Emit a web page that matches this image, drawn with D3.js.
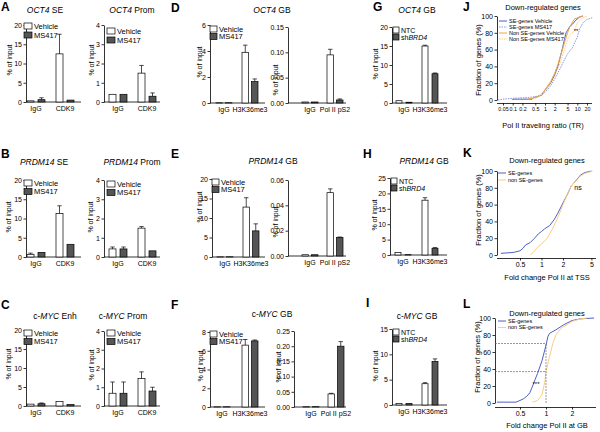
<!DOCTYPE html>
<html><head><meta charset="utf-8">
<script src="https://cdn.jsdelivr.net/npm/d3@7"></script>
<style>
body{margin:0;background:#fff}
svg{display:block;font-family:"Liberation Sans",Arial,Helvetica,sans-serif}
</style></head><body>
<svg id="fig" width="600" height="432"></svg>
<script>
// ---------------- categories / series ----------------
const catsCDK9 = ["IgG", "CDK9"];
const catsH3 = ["IgG", "H3K36me3"];
const catsPol = ["IgG", "Pol II pS2"];
const seriesMS = ["Vehicle", "MS417"];
const seriesSh = ["NTC", "shBRD4"];

// ---------------- tick values ----------------
const ticks20 = [0, 5, 10, 15, 20];
const ticks4 = [0, 1, 2, 3, 4];
const ticks6 = [0, 2, 4, 6];
const ticks8 = [0, 2, 4, 6, 8];
const ticks015 = [0, 0.05, 0.10, 0.15];
const ticks006 = [0, 0.02, 0.04, 0.06];
const ticks025 = [0, 0.05, 0.10, 0.15, 0.20, 0.25];
const ticks25 = [0, 5, 10, 15, 20, 25];
const ticks15 = [0, 5, 10, 15];
const ticksPct = [0, 20, 40, 60, 80, 100];
const jTickVals = [0.05, 0.1, 0.2, 0.5, 1, 2, 5, 10, 20];
const jTickLabels = ["0.05", "0.1", "0.2", "0.5", "1", "2", "5", "10", "20"];
const kTickVals = [0.5, 1, 2, 5];
const kTickLabels = ["0.5", "1", "2", "5"];
const lTickVals = [0.5, 1, 2];
const lTickLabels = ["0.5", "1", "2"];

// ---------------- bar values [category][series] and SD ----------------
const oct4SE = [[0.3, 0.6], [12.5, 0.5]];
const oct4SEerr = [[0.1, 0.5], [5.1, 0.1]];
const oct4Prom = [[0.4, 0.4], [1.5, 0.3]];
const oct4PromErr = [[0.03, 0.02], [0.4, 0.17]];
const prdmSE = [[0.7, 1.2], [11.3, 3.3]];
const prdmSEerr = [[0.3, 0.1], [2.0, 0.15]];
const prdmProm = [[0.42, 0.42], [1.5, 0.32]];
const prdmPromErr = [[0.1, 0.1], [0.08, 0.03]];
const mycEnh = [[0.5, 0.6], [1.2, 0.4]];
const mycEnhErr = [[0.05, 0.2], [0.1, 0.05]];
const mycProm = [[0.68, 0.68], [1.47, 0.8]];
const mycPromErr = [[0.6, 0.6], [0.35, 0.2]];
const oct4GBh3 = [[0.02, 0.02], [3.9, 1.65]];
const oct4GBh3Err = [[0.01, 0.01], [0.55, 0.2]];
const oct4GBpol = [[0.002, 0.002], [0.095, 0.006]];
const oct4GBpolErr = [[0.0005, 0.0005], [0.011, 0.002]];
const prdmGBh3 = [[0.05, 0.05], [12.8, 6.7]];
const prdmGBh3Err = [[0.02, 0.02], [2.4, 1.8]];
const prdmGBpol = [[0.001, 0.001], [0.050, 0.0145]];
const prdmGBpolErr = [[0.0003, 0.0003], [0.003, 0.0005]];
const mycGBh3 = [[0.02, 0.02], [6.6, 7.05]];
const mycGBh3Err = [[0.01, 0.01], [0.6, 0.1]];
const mycGBpol = [[0.001, 0.001], [0.043, 0.2]];
const mycGBpolErr = [[0.0003, 0.0003], [0.002, 0.015]];
const shOct4 = [[0.6, 0.2], [15.0, 7.7]];
const shOct4Err = [[0.1, 0.05], [0.2, 0.2]];
const shPrdm = [[0.8, 0.1], [17.8, 2.2]];
const shPrdmErr = [[0.1, 0.05], [0.8, 0.2]];
const shMyc = [[0.3, 0.3], [4.2, 8.6]];
const shMycErr = [[0.05, 0.05], [0.2, 0.5]];

// ---------------- cumulative curves [x, % of genes] ----------------
const jSEVeh = [[0.1,0],[0.1,1],[0.4,1],[0.45,3],[0.6,4],[0.8,6],[1,12],[1.5,20],[2,30],[2.5,40],[3,52],[3.5,62],[4,72],[4.5,80],[5,83],[6,88],[7,90],[9,95],[12,99],[15,100]];
const jSEMS = [[0.035,0],[0.05,1],[0.1,2],[0.3,3],[0.5,4],[0.8,6],[1,9],[1.5,17],[2,25],[3,38],[4,48],[5,55],[7,62],[10,75],[12,85],[15,92],[20,96],[30,98]];
const jNonVeh = [[0.3,1],[0.5,3],[0.7,5],[1,12],[1.5,22],[2,32],[2.5,42],[3,52],[4,68],[5,80],[6,88],[8,96],[10,98],[15,100]];
const jNonMS = [[0.4,1],[0.6,3],[1,10],[1.5,20],[2,28],[3,45],[4,60],[5,72],[6,78],[8,82],[10,92],[15,98],[20,100]];
const kSE = [[0.27,2],[0.4,3],[0.5,5],[0.55,8],[0.6,12],[0.7,15],[0.8,20],[0.9,25],[1,28],[1.1,31],[1.3,35],[1.5,42],[1.7,50],[2,62],[2.3,72],[2.6,82],[3,88],[3.5,95],[4,98],[5,100]];
const kNon = [[0.7,0],[0.8,5],[0.9,10],[1,13],[1.2,20],[1.4,30],[1.6,40],[1.8,50],[2,60],[2.3,72],[2.6,82],[3,88],[3.5,94],[4,97],[5.2,100]];
const lSE = [[0.27,1],[0.45,1],[0.5,3],[0.55,5],[0.6,8],[0.65,12],[0.7,20],[0.75,28],[0.8,35],[0.9,50],[1.0,68],[1.05,78],[1.1,82],[1.3,86],[1.6,92],[2,97],[2.5,99],[3.6,100]];
const lNon = [[0.7,1],[0.8,3],[0.9,10],[0.97,25],[1.0,37],[1.1,55],[1.2,70],[1.3,80],[1.5,88],[1.8,93],[2,96],[2.5,99],[3,100]];

// ---------------- drawing ----------------
const svg = d3.select("#fig");
const DARK = "#555555";
const fmt0 = d3.format("d"), fmt2 = d3.format(".2f");

function richText(sel, parts) {
  parts.forEach(p => sel.append("tspan").attr("font-style", p[1] ? "italic" : "normal").text(p[0]));
}
function letter(t, x, y) {
  svg.append("text").attr("x", x).attr("y", y).attr("font-size", 12).attr("font-weight", "bold").text(t);
}
function title(parts, x, y, size) {
  const t = svg.append("text").attr("x", x).attr("y", y).attr("text-anchor", "middle").attr("font-size", size || 8.5);
  richText(t, parts);
}
function ylab(t, x, y, size, fam) {
  svg.append("text").attr("transform", `translate(${x},${y}) rotate(-90)`).attr("text-anchor", "middle")
    .attr("dominant-baseline", "central").attr("font-size", size || 7).attr("font-family", fam || null).text(t);
}

function drawBars(c) {
  const g = svg.append("g");
  const y = d3.scaleLinear().domain([0, d3.max(c.ticks)]).range([c.bot, c.top]);
  const x = d3.scalePoint().domain(c.cats).range(c.centers);
  const bw = c.bw || 7, gap = c.gap || 4;
  const xs = d3.scaleBand().domain(c.series).range([-(bw + gap / 2), bw + gap / 2]).paddingInner(gap / (bw + gap));
  const ax = d3.axisLeft(y).tickValues(c.ticks).tickSize(2.5).tickSizeOuter(0).tickPadding(1.5).tickFormat(c.fmt || fmt0);
  const ga = g.append("g").attr("transform", `translate(${c.x0},0)`).call(ax);
  ga.attr("font-size", 7).attr("font-family", null);
  ga.selectAll("path,line").attr("stroke", "#000").attr("stroke-width", 0.8);
  g.append("line").attr("x1", c.x0).attr("x2", c.x1).attr("y1", c.bot).attr("y2", c.bot).attr("stroke", "#000").attr("stroke-width", 0.8);
  g.selectAll("text.cat").data(c.cats).join("text").attr("class", "cat")
    .attr("x", d => x(d)).attr("y", c.bot + 8.5).attr("text-anchor", "middle").attr("font-size", 7).text(d => d);
  const recs = [];
  c.cats.forEach((cat, i) => c.series.forEach((s, j) => recs.push({cat, s, j, v: c.vals[i][j], e: c.errs[i][j]})));
  g.selectAll("rect.bar").data(recs).join("rect").attr("class", "bar")
    .attr("x", d => x(d.cat) + xs(d.s)).attr("width", xs.bandwidth())
    .attr("y", d => y(d.v)).attr("height", d => Math.max(0, y(0) - y(d.v)))
    .attr("fill", d => d.j === 0 ? "#fff" : DARK).attr("stroke", "#000").attr("stroke-width", 0.7);
  const eb = recs.filter(d => y(d.v) - y(d.v + d.e) > 0.6);
  const cx = d => x(d.cat) + xs(d.s) + xs.bandwidth() / 2;
  g.selectAll("line.err").data(eb).join("line").attr("class", "err")
    .attr("x1", cx).attr("x2", cx)
    .attr("y1", d => y(d.v)).attr("y2", d => y(d.v + d.e)).attr("stroke", "#000").attr("stroke-width", 0.7);
  g.selectAll("line.cap").data(eb).join("line").attr("class", "cap")
    .attr("x1", d => cx(d) - 2.2).attr("x2", d => cx(d) + 2.2)
    .attr("y1", d => y(d.v + d.e)).attr("y2", d => y(d.v + d.e)).attr("stroke", "#000").attr("stroke-width", 0.7);
  if (c.leg) {
    const [lx, ly, ls, lw, lh] = c.leg;
    c.series.forEach((s, j) => {
      g.append("rect").attr("x", lx).attr("y", ly + j * ls).attr("width", lw).attr("height", lh)
        .attr("fill", j === 0 ? "#fff" : DARK).attr("stroke", "#000").attr("stroke-width", 0.7);
      const t = g.append("text").attr("x", lx + lw + 2).attr("y", ly + j * ls + lh - 0.3).attr("font-size", c.lfs || 7.5);
      if (s === "shBRD4") richText(t, [["sh", 0], ["BRD4", 1]]); else t.text(s);
    });
  }
  if (c.ylab) ylab("% of input", c.ylab[0], c.ylab[1]);
}

const barCfgs = [
  {cats: catsCDK9, series: seriesMS, vals: oct4SE, errs: oct4SEerr, ticks: ticks20, x0: 26, x1: 81, top: 25, bot: 102, centers: [36, 65], leg: [24, 23, 9, 8, 6], ylab: [9, 60]},
  {cats: catsCDK9, series: seriesMS, vals: oct4Prom, errs: oct4PromErr, ticks: ticks4, x0: 104, x1: 160, top: 25, bot: 102, centers: [118, 147], leg: [107, 28, 9, 8, 6], ylab: [91, 60]},
  {cats: catsCDK9, series: seriesMS, vals: prdmSE, errs: prdmSEerr, ticks: ticks20, x0: 26, x1: 81, top: 180, bot: 257, centers: [36, 65], leg: [24, 180, 8.5, 8, 6], ylab: [8, 217]},
  {cats: catsCDK9, series: seriesMS, vals: prdmProm, errs: prdmPromErr, ticks: ticks4, x0: 104, x1: 160, top: 180, bot: 257, centers: [118, 147], leg: [107, 181, 8.5, 8, 6], ylab: [90, 217]},
  {cats: catsCDK9, series: seriesMS, vals: mycEnh, errs: mycEnhErr, ticks: ticks20, x0: 26, x1: 81, top: 330, bot: 406, centers: [36, 65], leg: [24, 330, 8.5, 8, 6], ylab: [8, 364]},
  {cats: catsCDK9, series: seriesMS, vals: mycProm, errs: mycPromErr, ticks: ticks4, x0: 104, x1: 160, top: 331, bot: 406, centers: [118, 147], leg: [107, 330, 8.5, 8, 6], ylab: [91, 365]},
  {cats: catsH3, series: seriesMS, vals: oct4GBh3, errs: oct4GBh3Err, ticks: ticks6, x0: 210, x1: 265, top: 25, bot: 103, centers: [224, 250], bw: 6.5, gap: 3, leg: [210, 26, 7.5, 7, 6], ylab: [199, 62]},
  {cats: catsPol, series: seriesMS, vals: oct4GBpol, errs: oct4GBpolErr, ticks: ticks015, fmt: fmt2, x0: 288, x1: 346, top: 27, bot: 103, centers: [310, 335], bw: 6.5, gap: 3, ylab: [275, 80]},
  {cats: catsH3, series: seriesMS, vals: prdmGBh3, errs: prdmGBh3Err, ticks: ticks20, x0: 212, x1: 265, top: 179, bot: 257, centers: [225, 251], bw: 6.5, gap: 3, leg: [212, 179, 7.5, 7, 6], ylab: [199, 207]},
  {cats: catsPol, series: seriesMS, vals: prdmGBpol, errs: prdmGBpolErr, ticks: ticks006, fmt: fmt2, x0: 288, x1: 346, top: 180, bot: 256, centers: [310, 335], bw: 6.5, gap: 3, ylab: [275, 222]},
  {cats: catsH3, series: seriesMS, vals: mycGBh3, errs: mycGBh3Err, ticks: ticks8, x0: 210, x1: 265, top: 332, bot: 407, centers: [222, 250], bw: 6.5, gap: 3, leg: [210, 331, 7.5, 7, 6], ylab: [200, 366]},
  {cats: catsPol, series: seriesMS, vals: mycGBpol, errs: mycGBpolErr, ticks: ticks025, fmt: fmt2, x0: 294, x1: 346, top: 331, bot: 407, centers: [311, 336], bw: 6.5, gap: 3, ylab: [278, 367]},
  {cats: catsH3, series: seriesSh, vals: shOct4, errs: shOct4Err, ticks: ticks20, x0: 392, x1: 447, top: 27, bot: 103, centers: [404, 430], bw: 6, gap: 4, leg: [393, 27, 7, 6, 6], lfs: 7, ylab: [375, 64]},
  {cats: catsH3, series: seriesSh, vals: shPrdm, errs: shPrdmErr, ticks: ticks25, x0: 390, x1: 447, top: 178, bot: 255, centers: [403, 430], bw: 6, gap: 4, leg: [391, 178, 7, 6, 6], lfs: 7, ylab: [374, 215]},
  {cats: catsH3, series: seriesSh, vals: shMyc, errs: shMycErr, ticks: ticks15, x0: 392, x1: 447, top: 329, bot: 405, centers: [404, 430], bw: 6, gap: 4, leg: [393, 329, 7, 6, 6], lfs: 7, ylab: [375, 366]}
];
barCfgs.forEach(drawBars);

title([["OCT4", 1], [" SE", 0]], 45, 13);
title([["OCT4", 1], [" Prom", 0]], 132, 13);
title([["PRDM14", 1], [" SE", 0]], 44, 165);
title([["PRDM14", 1], [" Prom", 0]], 132, 165);
title([["c-", 0], ["MYC", 1], [" Enh", 0]], 55, 319);
title([["c-", 0], ["MYC", 1], [" Prom", 0]], 123, 319);
title([["OCT4", 1], [" GB", 0]], 272, 13);
title([["PRDM14", 1], [" GB", 0]], 273, 164);
title([["c-", 0], ["MYC", 1], [" GB", 0]], 272, 317);
title([["OCT4", 1], [" GB", 0]], 417, 13);
title([["PRDM14", 1], [" GB", 0]], 424, 164);
title([["c-", 0], ["MYC", 1], [" GB", 0]], 417, 319);

[["A", 1, 11], ["B", 1, 158], ["C", 1, 309], ["D", 171, 12], ["E", 171, 158], ["F", 171, 309],
 ["G", 373, 11], ["H", 363, 158], ["I", 366, 307], ["J", 463, 11], ["K", 463, 157], ["L", 463, 308]]
  .forEach(d => letter(d[0], d[1], d[2]));

// ---------------- cumulative line panels ----------------
const NARROW = '"Liberation Sans Narrow","Arial Narrow","Liberation Sans",Arial,sans-serif';
const BLUE = "#4f5fc4", BLUE2 = "#8b98dc", ORANGE = "#f0a63c", ORANGE2 = "#f7cf86";

function drawLines(c) {
  const g = svg.append("g").attr("font-family", NARROW);
  const x = d3.scaleLog().domain(c.xdom).range(c.xr);
  const y = d3.scaleLinear().domain([0, 100]).range([c.bot, c.top]);
  const ay = d3.axisLeft(y).tickValues(ticksPct).tickSize(2.5).tickSizeOuter(0).tickPadding(1.5);
  const gy = g.append("g").attr("transform", `translate(${c.ax},0)`).call(ay);
  gy.attr("font-size", 7).attr("font-family", null);
  const axx = d3.axisBottom(x).tickValues(c.tv).tickSize(2.5).tickSizeOuter(0).tickPadding(1.5).tickFormat((d, i) => c.tl[i]);
  const gx = g.append("g").attr("transform", `translate(0,${c.ay})`).call(axx);
  gx.attr("font-size", c.xfs || 7).attr("font-family", null);
  gx.select(".domain").attr("d", `M${c.ax},0.5H${c.xend}`);
  g.selectAll(".domain,.tick line").attr("stroke", "#000").attr("stroke-width", 0.8);
  const line = d3.line().x(d => x(d[0])).y(d => y(d[1]));
  c.series.forEach(s => {
    g.append("path").datum(s.data).attr("d", line).attr("fill", "none").attr("stroke", s.color)
      .attr("stroke-width", 1).attr("stroke-dasharray", s.dash || null);
  });
  c.series.forEach((s, i) => {
    const yy = c.leg[1] + i * c.leg[2];
    g.append("line").attr("x1", c.leg[0]).attr("x2", c.leg[0] + 8).attr("y1", yy).attr("y2", yy)
      .attr("stroke", s.color).attr("stroke-width", 1).attr("stroke-dasharray", s.dash || null);
    g.append("text").attr("x", c.leg[0] + 10).attr("y", yy + 1.8).attr("font-size", 5.5).text(s.name);
  });
  g.append("text").attr("x", c.tx).attr("y", c.ty).attr("text-anchor", "middle").attr("font-size", 7.5).text(c.title);
  g.append("text").attr("x", c.tx).attr("y", c.xly).attr("text-anchor", "middle").attr("font-size", 7.5).text(c.xlabel);
  ylab("Fraction of genes (%)", c.yl[0], c.yl[1], 7.5, NARROW);
  return {g, x, y};
}

const J = drawLines({xdom: [0.05, 20], xr: [503, 587], xend: 592, top: 16, bot: 100, ax: 497, ay: 103, tv: jTickVals, tl: jTickLabels, xfs: 5.3,
  leg: [499, 21, 6], tx: 543, ty: 10, xlabel: "Pol II traveling ratio (TR)", xly: 128, yl: [478, 60], title: "Down-regulated genes",
  series: [{name: "SE-genes Vehicle", data: jSEVeh, color: BLUE}, {name: "SE-genes MS417", data: jSEMS, color: BLUE2, dash: "1.5,1"},
           {name: "Non SE-genes Vehicle", data: jNonVeh, color: ORANGE}, {name: "Non SE-genes MS417", data: jNonMS, color: ORANGE2, dash: "1.5,1"}]});
J.g.append("text").attr("x", 576).attr("y", 33).attr("text-anchor", "middle").attr("font-size", 6).text("**");

const K = drawLines({xdom: [0.5, 2], xr: [520, 563], xend: 596, top: 171, bot: 255, ax: 497, ay: 258, tv: kTickVals, tl: kTickLabels,
  leg: [498, 173, 7], tx: 547, ty: 163, xlabel: "Fold change Pol II at TSS", xly: 280, yl: [478, 210], title: "Down-regulated genes",
  series: [{name: "SE-genes", data: kSE, color: BLUE}, {name: "non SE-genes", data: kNon, color: ORANGE2}]});
K.g.append("text").attr("x", 578).attr("y", 190).attr("text-anchor", "middle").attr("font-size", 7).text("ns");

const L = drawLines({xdom: [0.5, 2], xr: [520, 572], xend: 596, top: 318, bot: 403, ax: 495, ay: 407, tv: lTickVals, tl: lTickLabels,
  leg: [498, 321, 6.5], tx: 547, ty: 316, xlabel: "Fold change Pol II at GB", xly: 428, yl: [477, 357], title: "Down-regulated genes",
  series: [{name: "SE-genes", data: lSE, color: BLUE}, {name: "non SE-genes", data: lNon, color: ORANGE2}]});
[70, 37].forEach(p => L.g.append("line").attr("x1", 495).attr("x2", L.x(1)).attr("y1", L.y(p)).attr("y2", L.y(p))
  .attr("stroke", "#555").attr("stroke-width", 0.6).attr("stroke-dasharray", "2,1"));
L.g.append("line").attr("x1", L.x(1)).attr("x2", L.x(1)).attr("y1", L.y(0)).attr("y2", L.y(70))
  .attr("stroke", "#555").attr("stroke-width", 0.6).attr("stroke-dasharray", "2,1");
L.g.append("text").attr("x", 536).attr("y", 386).attr("text-anchor", "middle").attr("font-size", 6).text("***");
</script></body></html>
